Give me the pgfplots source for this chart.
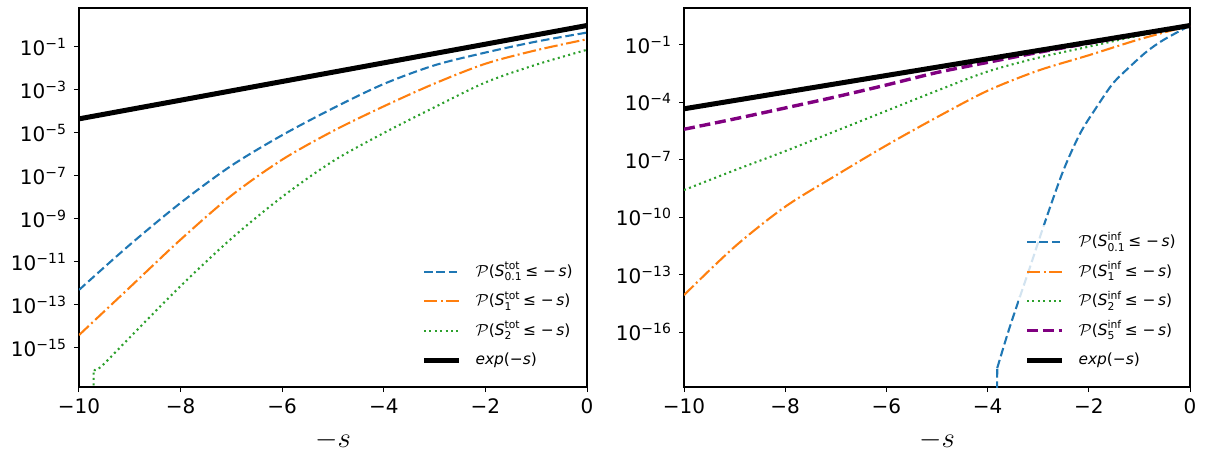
\documentclass[border=0pt]{standalone}
\usepackage{pgfplots}
\pgfplotsset{compat=1.18}
\usepackage{amsmath}
\usepackage{fontspec}
\setmainfont{DejaVu Sans}
\definecolor{tabblue}{HTML}{1F77B4}
\definecolor{taborange}{HTML}{FF7F0E}
\definecolor{tabgreen}{HTML}{2CA02C}
\definecolor{mplpurple}{HTML}{800080}
\begin{document}
\begin{tikzpicture}
\path[use as bounding box] (-39.5pt,-35pt) rectangle (563pt,193.5pt);
\begin{axis}[at={(0pt,0pt)}, anchor=south west,
    scale only axis, width=254pt, height=189.5pt,
    xmin=-10, xmax=0,
    ymode=log, log basis y=10, yminorticks=false,
    ymin=1.53e-17, ymax=6.5,
    ytick={1e-15,1e-13,1e-11,1e-9,1e-7,1e-5,1e-3,1e-1},
    yticklabels={10\textsuperscript{−15},10\textsuperscript{−13},10\textsuperscript{−11},10\textsuperscript{−9},10\textsuperscript{−7},10\textsuperscript{−5},10\textsuperscript{−3},10\textsuperscript{−1}},
    xtick={-10,-8,-6,-4,-2,0},
    xticklabels={−10,−8,−6,−4,−2,0},
    tick align=outside, tick pos=left,
    major tick length=2.5pt,
    tick style={black, line width=0.5pt},
    axis line style={line width=0.55pt},
    tick label style={font=\fontsize{10}{12}\selectfont},
    xlabel={$-s$},
    xlabel style={at={(axis description cs:0.5,0)}, anchor=base, yshift=-30pt, font=\fontsize{14}{16}\selectfont},
    legend cell align=left,
    legend image code/.code={\draw[#1] (0pt,0pt) -- (17.5pt,0pt);},
    legend style={at={(axis description cs:1,0)}, anchor=south east, xshift=-3.5pt, yshift=4.5pt,
      draw=none, fill=white, fill opacity=0.8, text opacity=1, inner sep=3pt,
      font=\fontsize{7.7}{9.5}\selectfont, row sep=3.25pt, column sep=6.5pt,
      nodes={inner sep=0.5pt, text height=7.5pt, text depth=3pt}},
]
\addplot[tabblue, line width=1.04pt, dash pattern=on 4.3pt off 1.9pt, smooth] coordinates {(-10,5.01e-13) (-9,6.31e-11) (-8,5.62e-9) (-7,3.02e-7) (-6,7.94e-6) (-5,1.41e-4) (-4,1.91e-3) (-3,1.41e-2) (-2,5.5e-2) (-1,0.178) (0,0.468)};
\addlegendentry{$\mathcal{P}$(\(\text{\textit{S}}^{\text{tot}}_{\text{0.1}}\)\,≤ −\,\textit{s})}
\addplot[taborange, line width=1.04pt, dash pattern=on 6.7pt off 1.7pt on 1pt off 1.7pt, smooth] coordinates {(-10,3.98e-15) (-9,6.61e-13) (-8,1.10e-10) (-7,1.23e-8) (-6,5.75e-7) (-5,1.23e-5) (-4,1.74e-4) (-3,2.0e-3) (-2,1.66e-2) (-1,7.08e-2) (0,0.229)};
\addlegendentry{$\mathcal{P}$(\(\text{\textit{S}}^{\text{tot}}_{\text{1}}\)\,≤ −\,\textit{s})}
\addplot[tabgreen, line width=1.04pt, dash pattern=on 1pt off 1.7pt, smooth] coordinates {(-9.71,9.5e-17) (-9.57,1.32e-16) (-9,3.09e-15) (-8,7.59e-13) (-7,1.23e-10) (-6,1.07e-8) (-5,4.9e-7) (-4,1e-5) (-3,1.58e-4) (-2,2.24e-3) (-1,1.51e-2) (0,7.41e-2)};
\addlegendentry{$\mathcal{P}$(\(\text{\textit{S}}^{\text{tot}}_{\text{2}}\)\,≤ −\,\textit{s})}
\addplot[tabgreen, line width=1.04pt, dash pattern=on 1pt off 1.7pt, forget plot] coordinates {(-9.72,1e-19) (-9.71,9.5e-17)};
\addplot[black, line width=2.5pt] coordinates {(-10,4.54e-5) (-8,3.35e-4) (-6,2.48e-3) (-4,1.83e-2) (-2,0.135) (0,1)};
\addlegendentry{\textit{exp}(−\textit{s})}
\end{axis}
\begin{axis}[at={(302.5pt,0pt)}, anchor=south west,
    scale only axis, width=253pt, height=189.5pt,
    xmin=-10, xmax=0,
    ymode=log, log basis y=10, yminorticks=false,
    ymin=1.4e-19, ymax=8.2,
    ytick={1e-16,1e-13,1e-10,1e-7,1e-4,1e-1},
    yticklabels={10\textsuperscript{−16},10\textsuperscript{−13},10\textsuperscript{−10},10\textsuperscript{−7},10\textsuperscript{−4},10\textsuperscript{−1}},
    xtick={-10,-8,-6,-4,-2,0},
    xticklabels={−10,−8,−6,−4,−2,0},
    tick align=outside, tick pos=left,
    major tick length=2.5pt,
    tick style={black, line width=0.5pt},
    axis line style={line width=0.55pt},
    tick label style={font=\fontsize{10}{12}\selectfont},
    xlabel={$-s$},
    xlabel style={at={(axis description cs:0.5,0)}, anchor=base, yshift=-30pt, font=\fontsize{14}{16}\selectfont},
    legend cell align=left,
    legend image code/.code={\draw[#1] (0pt,0pt) -- (17.5pt,0pt);},
    legend style={at={(axis description cs:1,0)}, anchor=south east, xshift=-3.5pt, yshift=4.5pt,
      draw=none, fill=white, fill opacity=0.8, text opacity=1, inner sep=3pt,
      font=\fontsize{7.7}{9.5}\selectfont, row sep=3.25pt, column sep=6.5pt,
      nodes={inner sep=0.5pt, text height=7.5pt, text depth=3pt}},
]
\addplot[tabblue, line width=1.04pt, dash pattern=on 4.3pt off 1.9pt, smooth] coordinates {(-3.81,1.35e-18) (-3.56,1.95e-16) (-3.16,2.63e-13) (-2.83,1.07e-10) (-2.5,2.88e-8) (-2.17,2.4e-6) (-1.84,5.89e-5) (-1.52,9.77e-4) (-1.19,7.08e-3) (-0.86,4.27e-2) (-0.53,0.174) (0,1)};
\addlegendentry{$\mathcal{P}$(\(\text{\textit{S}}^{\text{inf}}_{\text{0.1}}\)\,≤ −\,\textit{s})}
\addplot[tabblue, line width=1.04pt, dash pattern=on 4.3pt off 1.9pt, forget plot] coordinates {(-3.82,1e-30) (-3.81,1.35e-18)};
\addplot[taborange, line width=1.04pt, dash pattern=on 6.7pt off 1.7pt on 1pt off 1.7pt, smooth] coordinates {(-10,8.71e-15) (-9,2.88e-12) (-8,3.55e-10) (-7,1.51e-8) (-6,5.62e-7) (-5,1.66e-5) (-4,3.98e-4) (-3,4.47e-3) (-2,2.82e-2) (-1,0.191) (0,1)};
\addlegendentry{$\mathcal{P}$(\(\text{\textit{S}}^{\text{inf}}_{\text{1}}\)\,≤ −\,\textit{s})}
\addplot[tabgreen, line width=1.04pt, dash pattern=on 1pt off 1.7pt, smooth] coordinates {(-10,2.63e-9) (-9,2.82e-8) (-8,2.82e-7) (-7,3.16e-6) (-6,3.55e-5) (-5,3.98e-4) (-4,3.98e-3) (-3,2.09e-2) (-2,7.94e-2) (-1,0.302) (0,1)};
\addlegendentry{$\mathcal{P}$(\(\text{\textit{S}}^{\text{inf}}_{\text{2}}\)\,≤ −\,\textit{s})}
\addplot[mplpurple, line width=1.7pt, dash pattern=on 5.5pt off 2.4pt, smooth] coordinates {(-10,3.89e-6) (-9,1.35e-5) (-8,5.01e-5) (-7,1.91e-4) (-6,7.94e-4) (-5,3.55e-3) (-4,1.2e-2) (-3,3.98e-2) (-2,0.12) (-1,0.347) (0,1)};
\addlegendentry{$\mathcal{P}$(\(\text{\textit{S}}^{\text{inf}}_{\text{5}}\)\,≤ −\,\textit{s})}
\addplot[black, line width=2.5pt] coordinates {(-10,4.54e-5) (-8,3.35e-4) (-6,2.48e-3) (-4,1.83e-2) (-2,0.135) (0,1)};
\addlegendentry{\textit{exp}(−\textit{s})}
\end{axis}
\end{tikzpicture}
\end{document}
